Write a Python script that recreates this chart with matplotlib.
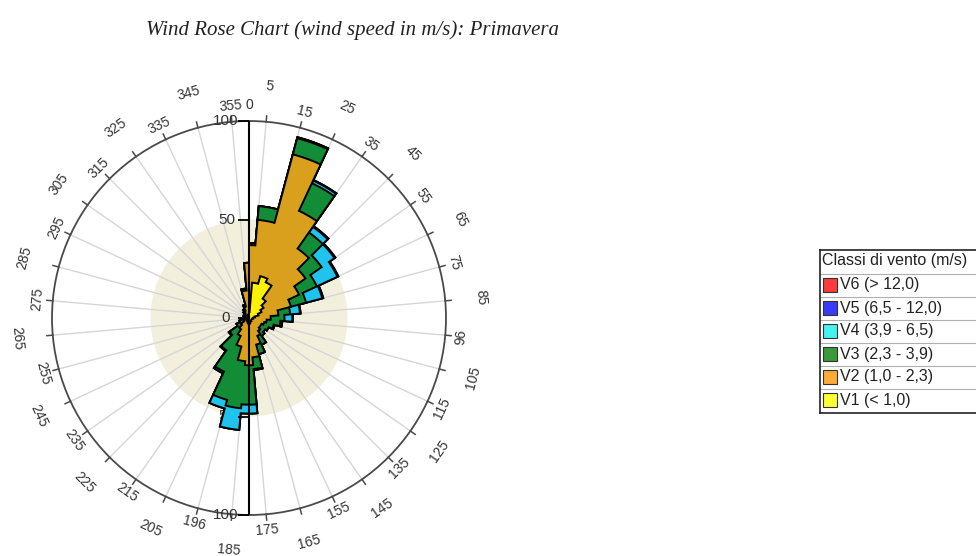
import numpy as np
import matplotlib.pyplot as plt
from matplotlib.markers import TICKLEFT
from matplotlib.patches import Rectangle

# direction bins in degrees clockwise from north; the north sector is split at 0/360
bin_edges = [0] + list(range(5, 360, 10)) + [360]

# frequency per speed class for each bin (first bin 0-5, then 10, 20, ... 350, last bin 355-360)
v1 = [3, 18, 22, 20, 12, 9, 7, 5, 3, 2, 2, 1.5, 1.5, 1.5, 1.5, 2, 2, 2.5, 3,
      2.5, 2, 1.5, 1.5, 1, 1, 1, 1, 1, 1, 1, 1, 1, 1, 1, 1, 1.5, 2]
v2 = [34, 32, 64, 40, 31, 26, 21, 17, 12, 9, 7, 6.5, 5.5, 5.5, 6.5, 8, 12, 17.5, 21,
      19.5, 13, 8.5, 5.5, 4, 2, 1.5, 1, 1, 1, 1, 1, 1.5, 2, 3, 5, 12.5, 26]
v3 = [1, 7, 8.5, 15.5, 10, 10, 10, 8, 6, 7, 7, 5, 4, 3, 3, 5, 5, 6, 20,
      24, 28, 20, 13, 7, 4, 2.5, 2, 1, 1, 1, 1, 0.5, 1, 1, 1, 1, 0]
v4 = [0, 0, 0.5, 1.5, 3.5, 8, 11.5, 8.5, 5, 4, 1, 0.5, 0, 0, 0, 0, 0, 0.5, 4.5,
      11, 4.5, 1, 0.5, 0.5, 0, 0, 0, 0, 0, 0, 0, 0, 0, 0, 0, 0, 0]
v5 = [0, 0, 0, 0.3, 0.5, 0.5, 0.5, 0.5, 0.3, 0.2, 0, 0, 0, 0, 0, 0, 0, 0, 0,
      0, 0, 0, 0, 0, 0, 0, 0, 0, 0, 0, 0, 0, 0, 0, 0, 0, 0]
v6 = [0] * 37

class_names = ["V1 (< 1,0)", "V2 (1,0 - 2,3)", "V3 (2,3 - 3,9)",
               "V4 (3,9 - 6,5)", "V5 (6,5 - 12,0)", "V6 (> 12,0)"]
angle_ticks = list(range(5, 360, 10))
angle_labels = [str(a) for a in angle_ticks]
angle_labels[9] = "96"
angle_labels[19] = "196"

fill_colors = ["#fff200", "#d8a01c", "#138c38", "#1fc3ee", "#14148c", "#e02020"]
key_colors = ["#ffff33", "#ffab35", "#3a9a3a", "#44f2f2", "#3a3aff", "#ff3a3a"]

fig = plt.figure(figsize=(9.76, 5.56), dpi=100)
fig.text(352 / 976, 1 - 30 / 556, "Wind Rose Chart (wind speed in m/s): Primavera",
         family="Liberation Serif", style="italic", fontsize=15, color="#222222",
         ha="center", va="center")

ax = fig.add_axes([52 / 976, 41 / 556, 394 / 976, 394 / 556], projection="polar")
ax.set_theta_zero_location("N")
ax.set_theta_direction(-1)
ax.set_ylim(0, 100)
ax.set_yticks([])
ax.set_xticks(np.deg2rad(angle_ticks))
ax.set_xticklabels([])
ax.tick_params(axis="x", length=0)
ax.xaxis.grid(True, color="#d6d6d6", lw=1)
ax.set_axisbelow(True)
ax.spines["polar"].set_color("#4a4a4a")
ax.spines["polar"].set_linewidth(1.3)

# light inner disc up to 50
ax.bar(0, 50, width=2 * np.pi, bottom=0, color="#f2efdc", lw=0, zorder=0.2)


def step_outline(r):
    th, rr = [], []
    for a0, a1, val in zip(bin_edges[:-1], bin_edges[1:], r):
        t = np.linspace(a0, a1, 12)
        th.extend(t)
        rr.extend([val] * len(t))
    return np.deg2rad(th), rr


cum = np.cumsum([v1, v2, v3, v4, v5, v6], axis=0)
for k in reversed(range(6)):
    th, rr = step_outline(cum[k])
    ax.fill(th, rr, facecolor=fill_colors[k], edgecolor="black", lw=1.4,
            joinstyle="miter", zorder=2 + 0.01 * (6 - k))

# small outward ticks on the rim
for a in angle_ticks:
    t = np.deg2rad(a)
    ax.plot([t, t], [100, 103], color="#4a4a4a", lw=1.1, clip_on=False, zorder=3)

# radial scale drawn along the north-south line
ax.plot([0, 0], [0, 100], color="black", lw=1.5, zorder=5)
ax.plot([np.pi, np.pi], [0, 100], color="black", lw=1.5, zorder=5)
ax.plot([0, 0, 0], [0, 50, 100], ls="none", marker=TICKLEFT, ms=8, mew=1.3,
        color="black", zorder=5, clip_on=False)
ax.plot([np.pi, np.pi], [50, 100], ls="none", marker=TICKLEFT, ms=8, mew=1.3,
        color="black", zorder=5, clip_on=False)
radial_labels = [(0, 100, -11, 6), (0, 50, -14, 6), (0, 0, -19, 6),
                 (np.pi, 50, -14, 1), (np.pi, 100, -11, 6)]
for th, r, dx, z in radial_labels:
    ax.annotate(str(r), (th, r), xytext=(dx, 0), textcoords="offset pixels",
                ha="right", va="center", fontsize=11, color="#333333",
                family="Liberation Sans", zorder=z, annotation_clip=False)

# direction labels, alternating between two radii
for i, (a, lab) in enumerate(zip(angle_ticks, angle_labels)):
    r = 118 if i % 2 == 0 else 108
    rot = -a + (180 if 90 < a < 270 else 0)
    ax.text(np.deg2rad(a), r, lab, rotation=rot, rotation_mode="anchor",
            ha="center", va="center", fontsize=10, color="#333333",
            family="Liberation Sans")
ax.text(0, 108, "0", ha="center", va="center", fontsize=10, color="#333333",
        family="Liberation Sans")

# legend table
lax = fig.add_axes([820 / 976, 143 / 556, 170 / 976, 163 / 556])
lax.set_xlim(0, 170)
lax.set_ylim(163, 0)
lax.set_xticks([])
lax.set_yticks([])
for s in lax.spines.values():
    s.set_color("#222222")
    s.set_linewidth(1.2)
lax.text(2, 11, "Classi di vento (m/s)", va="center", ha="left", fontsize=11.5,
         family="Liberation Sans", color="#222222")
row_h = 23
for j, k in enumerate(reversed(range(6))):
    y0 = 23.5 + j * row_h
    lax.axhline(y0, color="#b0b0b0", lw=0.8)
    lax.add_patch(Rectangle((3, y0 + 4.5), 14, 14, facecolor=key_colors[k],
                            edgecolor="#333333", lw=0.8))
    lax.text(20, y0 + row_h / 2, class_names[k], va="center", ha="left",
             fontsize=11.5, family="Liberation Sans", color="#222222")

fig.savefig("out.png", dpi=100)
